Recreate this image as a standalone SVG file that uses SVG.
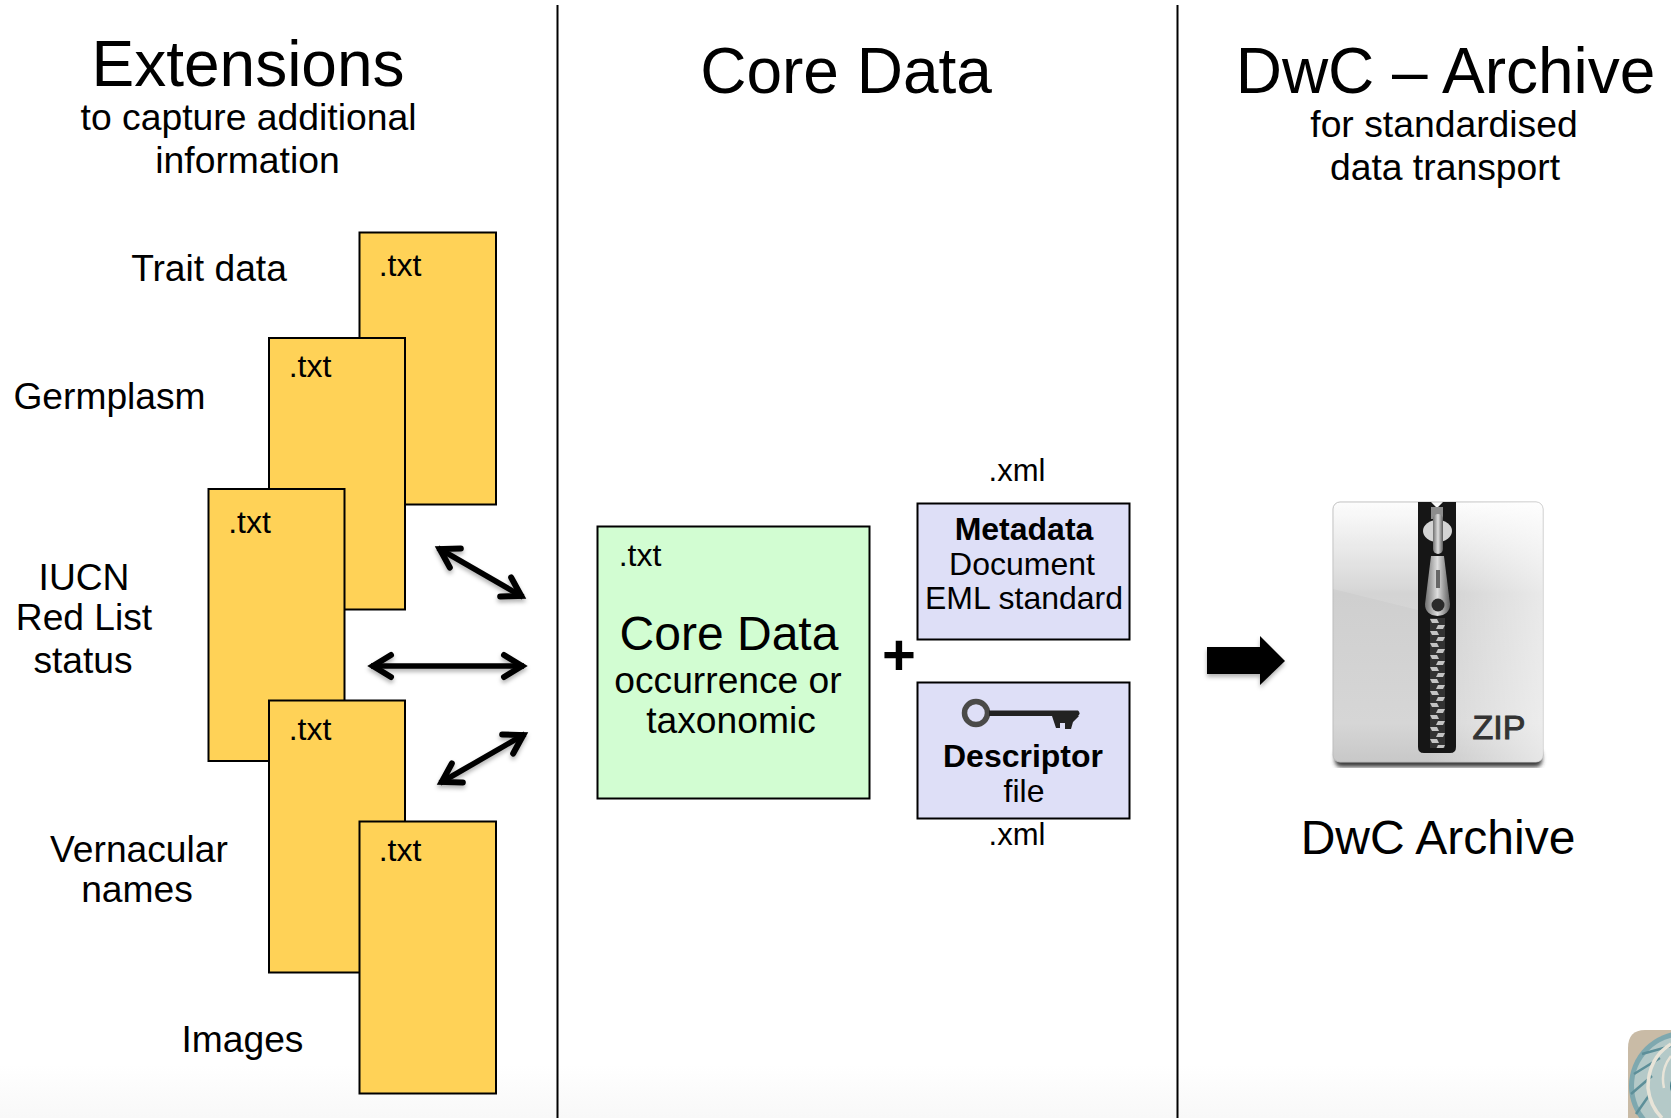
<svg xmlns="http://www.w3.org/2000/svg" width="1671" height="1118" viewBox="0 0 1671 1118">
<style>
text{font-family:"Liberation Sans",Arial,sans-serif;fill:#000;text-anchor:middle}
.h{font-size:64px}.s{font-size:37.300px}.l{font-size:37.200px}.t{font-size:32px}
.y{fill:#ffd257;stroke:#000;stroke-width:2}
.b{fill:#dedff7;stroke:#000;stroke-width:2}
.m{font-size:32px}.x{font-size:31px}
.div{stroke:#000;stroke-width:2;fill:none}
.dbl{stroke:#000;stroke-width:5.500;fill:none;marker-start:url(#ah);marker-end:url(#ah)}
</style>
<defs>
<marker id="ah" markerUnits="userSpaceOnUse" markerWidth="34" markerHeight="34" refX="29" refY="17" orient="auto-start-reverse" viewBox="0 0 34 34"><path d="M9 6 L27 17 L9 28" fill="none" stroke="#000" stroke-width="6" stroke-linecap="round" stroke-linejoin="miter"/></marker>
<filter id="sh" x="-20%" y="-20%" width="140%" height="140%"><feDropShadow dx="0" dy="3" stdDeviation="2" flood-color="#000" flood-opacity=".3"/></filter>
<filter id="sb" x="-5%" y="-5%" width="110%" height="110%"><feGaussianBlur stdDeviation="2"/></filter>
<filter id="soft" x="-5%" y="-5%" width="110%" height="110%"><feGaussianBlur stdDeviation=".6"/></filter>
<linearGradient id="bg" x1="0" y1="0" x2="0" y2="1"><stop offset="0" stop-color="#fff"/><stop offset="1" stop-color="#f8f8f8"/></linearGradient>
<linearGradient id="card" x1="0" y1="0" x2="0" y2="1"><stop offset="0" stop-color="#fdfdfd"/><stop offset=".33" stop-color="#d3d3d3"/><stop offset=".35" stop-color="#cfcfcf"/><stop offset=".85" stop-color="#d6d6d6"/><stop offset="1" stop-color="#c8c8c8"/></linearGradient>
<linearGradient id="rt" x1="0" y1="0" x2="1" y2="0"><stop offset=".45" stop-color="#fff" stop-opacity="0"/><stop offset="1" stop-color="#fff" stop-opacity=".55"/></linearGradient>
<linearGradient id="pull" x1="0" y1="0" x2="1" y2="0"><stop offset="0" stop-color="#6f6f6f"/><stop offset=".5" stop-color="#dedede"/><stop offset="1" stop-color="#5c5c5c"/></linearGradient>
<pattern id="teeth" width="15" height="12" patternUnits="userSpaceOnUse" x="1430" y="618"><rect width="15" height="12" fill="#333"/><path d="M0 1H7L9 5H2Z M8 7H15L13 11H6Z" fill="#c4c4c4"/></pattern>
<clipPath id="nc"><path d="M1671 1030H1645Q1628 1030 1628 1048V1118H1671Z"/></clipPath>
</defs>
<rect x="0" y="1065" width="1671" height="53" fill="url(#bg)"/>
<g id="dividers"><path class="div" d="M557.500 5V1118M1177.500 5V1118"/></g>

<g id="heading-extensions"><text class="h" x="248" y="86">Extensions</text><text class="s" x="248.500" y="130">to capture additional</text><text class="s" x="247.500" y="173">information</text></g>
<g id="heading-core"><text class="h" x="846" y="93">Core Data</text></g>
<g id="heading-archive"><text class="h" x="1445.500" y="93">DwC – Archive</text><text class="s" x="1444" y="137">for standardised</text><text class="s" x="1445" y="180">data transport</text></g>

<g id="ext-trait"><rect class="y" x="359.500" y="232.500" width="136.500" height="272"/><text class="t" x="400" y="276">.txt</text><text class="l" x="209" y="281">Trait data</text></g>
<g id="ext-germplasm"><rect class="y" x="269" y="338" width="136" height="271.500"/><text class="t" x="310" y="377">.txt</text><text class="l" x="109.500" y="409">Germplasm</text></g>
<g id="ext-iucn"><rect class="y" x="208.500" y="489" width="136" height="272"/><text class="t" x="249.500" y="533">.txt</text><text class="l" x="84" y="590">IUCN</text><text class="l" x="84" y="630">Red List</text><text class="l" x="83" y="673">status</text></g>
<g id="ext-vernacular"><rect class="y" x="269" y="700.500" width="136" height="272"/><text class="t" x="310" y="740">.txt</text><text class="l" x="139" y="862">Vernacular</text><text class="l" x="137" y="902">names</text></g>
<g id="ext-images"><rect class="y" x="359.500" y="821.500" width="136.500" height="272"/><text class="t" x="400" y="861">.txt</text><text class="l" x="242.500" y="1052">Images</text></g>

<g id="connectors" filter="url(#sh)">
<path class="dbl" d="M438 548L523 597"/>
<path class="dbl" d="M371 666H524"/>
<path class="dbl" d="M525 734L440 783"/>
<path d="M1207 647H1260V636L1285 661L1260 685V674H1207Z" fill="#000"/>
</g>

<g id="core"><rect x="597.500" y="526.500" width="272" height="272" fill="#d2fdd2" stroke="#000" stroke-width="2"/><text class="t" x="640" y="566">.txt</text><text x="729" y="650" font-size="48">Core Data</text><text class="l" x="728" y="693">occurrence or</text><text class="l" x="731" y="733">taxonomic</text></g>
<g id="plus"><text x="899" y="675" font-size="58" font-weight="bold">+</text></g>
<g id="metadata"><text class="x" x="1017" y="481">.xml</text><rect class="b" x="917.500" y="503.500" width="212" height="136"/><text class="m" x="1024" y="540" font-weight="bold">Metadata</text><text class="m" x="1022" y="575">Document</text><text class="m" x="1024" y="609">EML standard</text></g>
<g id="descriptor"><rect class="b" x="917.500" y="682.500" width="212" height="136"/>
<g id="key"><circle cx="976" cy="713" r="11.500" fill="none" stroke="#4a4a48" stroke-width="5.500"/><path d="M989 710.500H1078Q1081 713 1078 716H989Z" fill="#222"/><path d="M1052 716H1079L1073 722L1071 729L1065 729V723L1060 723V728L1056 728Z" fill="#222"/></g>
<text class="m" x="1023" y="767" font-weight="bold">Descriptor</text><text class="m" x="1024" y="802">file</text><text class="x" x="1017" y="845">.xml</text></g>

<g id="zip">
<rect x="1335" y="750" width="207" height="17" rx="6" fill="#3c3c3c" filter="url(#sb)"/>
<rect x="1333" y="502" width="210" height="260" rx="7" fill="url(#card)" stroke="#bdbdbd" stroke-width="1"/>
<rect x="1333" y="502" width="210" height="260" rx="7" fill="url(#rt)"/>
<path d="M1333 589L1418 610V502H1340Q1333 502 1333 509Z" fill="#fff" opacity=".12"/>
<g filter="url(#soft)">
<path d="M1418 502H1431L1437 508L1443 502H1456V747Q1456 753 1450 753H1424Q1418 753 1418 747Z" fill="#141414"/>
<rect x="1430" y="618" width="15" height="130" fill="url(#teeth)"/>
<rect x="1431" y="507" width="12" height="12" fill="#8d8d8d"/>
<ellipse cx="1437.500" cy="531" rx="14.500" ry="11" fill="#d4d4d4"/>
<rect x="1433" y="514" width="10" height="40" rx="5" fill="url(#pull)"/>
<path d="M1431 556H1444L1450 604Q1450 615 1437.500 616Q1425 615 1425 604Z" fill="url(#pull)"/>
<rect x="1436" y="570" width="4" height="18" fill="#666"/>
<circle cx="1438" cy="605" r="6.500" fill="#2a2a2a"/>
</g>
<text x="1499" y="739" font-size="34" stroke="#333" stroke-width="1" style="fill:#333">ZIP</text>
<text x="1438" y="854" font-size="48">DwC Archive</text>
</g>

<g id="nautilus" clip-path="url(#nc)">
<rect x="1628" y="1030" width="43" height="88" fill="#c9bba6"/>
<circle cx="1684" cy="1086" r="55" fill="#7ea8af"/>
<circle cx="1684" cy="1086" r="50" fill="#b4c9c8"/>
<path d="M1671 1046L1642 1054M1660 1058L1634 1074M1652 1076L1631 1094M1650 1094L1636 1114" stroke="#5d8f99" stroke-width="2.500" fill="none"/>
<path d="M1671 1044Q1648 1058 1648 1088Q1650 1106 1662 1118" fill="none" stroke="#e8e4d8" stroke-width="3.500"/>
<path d="M1671 1056Q1660 1070 1664 1088" fill="none" stroke="#e8e4d8" stroke-width="2.500"/>
<circle cx="1684" cy="1086" r="14" fill="#3f7a86"/>
</g>
</svg>
